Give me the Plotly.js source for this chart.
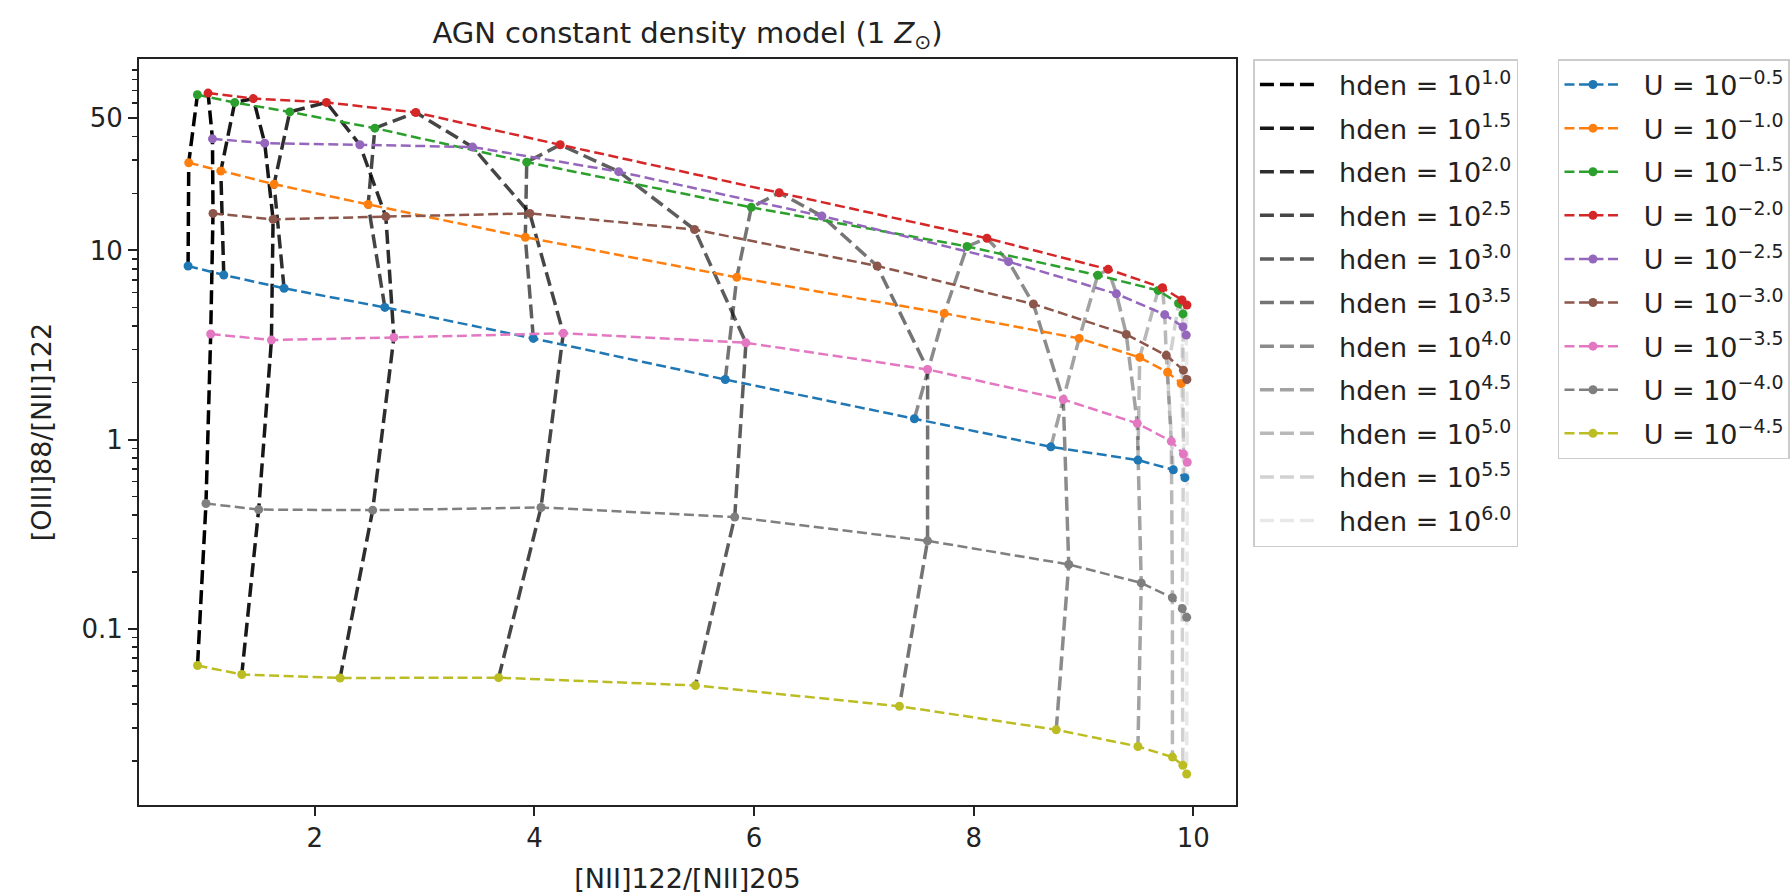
<!DOCTYPE html>
<html>
<head>
<meta charset="utf-8">
<script src="https://cdn.plot.ly/plotly-3.0.1.min.js"></script>
<style>
  html, body { margin: 0; padding: 0; background: #ffffff; width: 1792px; height: 896px; overflow: hidden; }
  #chart { width: 1850px; height: 896px; }
</style>
</head>
<body>
<div id="chart"></div>
<script>
// Density exponents (log10 hden) and ionisation-parameter exponents (log10 U)
const hdenExp = ["1.0", "1.5", "2.0", "2.5", "3.0", "3.5", "4.0", "4.5", "5.0", "5.5", "6.0"];
const uExp = ["−0.5", "−1.0", "−1.5", "−2.0", "−2.5", "−3.0", "−3.5", "−4.0", "−4.5"];
const uColors = ["#1f77b4", "#ff7f0e", "#2ca02c", "#d62728", "#9467bd",
                 "#8c564b", "#e377c2", "#7f7f7f", "#bcbd22"];

// [NII]122/[NII]205 for each U, one value per density (hden 10^1.0 ... 10^6.0)
const nii_Um05 = [0.846, 1.171, 1.72, 2.638, 3.99, 5.738, 7.46, 8.703, 9.496, 9.818, 9.924];
const nii_Um10 = [0.852, 1.144, 1.629, 2.486, 3.917, 5.843, 7.732, 8.961, 9.512, 9.766, 9.89];
const nii_Um15 = [0.931, 1.271, 1.772, 2.547, 3.93, 5.975, 7.94, 9.13, 9.68, 9.866, 9.906];
const nii_Um20 = [1.028, 1.44, 2.106, 2.92, 4.235, 6.229, 8.121, 9.225, 9.72, 9.897, 9.942];
const nii_Um25 = [1.068, 1.544, 2.41, 3.437, 4.767, 6.618, 8.318, 9.3, 9.74, 9.906, 9.936];
const nii_Um30 = [1.073, 1.62, 2.647, 3.958, 5.458, 7.121, 8.544, 9.39, 9.754, 9.91, 9.942];
const nii_Um35 = [1.052, 1.605, 2.72, 4.263, 5.926, 7.581, 8.816, 9.49, 9.80, 9.91, 9.945];
const nii_Um40 = [1.009, 1.489, 2.527, 4.06, 5.824, 7.58, 8.866, 9.526, 9.81, 9.90, 9.94];
const nii_Um45 = [0.932, 1.335, 2.23, 3.674, 5.466, 7.324, 8.752, 9.496, 9.81, 9.905, 9.94];

// [OIII]88/[NII]122 for each U, same density order
const oiii_Um05 = [8.28, 7.42, 6.31, 5.0, 3.43, 2.08, 1.29, 0.916, 0.78, 0.693, 0.63];
const oiii_Um10 = [29.1, 26.3, 22.4, 17.5, 11.75, 7.21, 4.65, 3.43, 2.72, 2.27, 1.98];
const oiii_Um15 = [66.5, 60.5, 54.0, 44.3, 29.3, 16.9, 10.5, 7.4, 6.15, 5.25, 4.62];
const oiii_Um20 = [67.9, 63.5, 60.6, 53.6, 36.2, 20.2, 11.6, 7.95, 6.35, 5.47, 5.15];
const oiii_Um25 = [38.9, 36.9, 36.2, 35.2, 26.1, 15.2, 8.73, 5.9, 4.58, 3.95, 3.57];
const oiii_Um30 = [15.7, 14.6, 15.1, 15.7, 12.9, 8.28, 5.21, 3.6, 2.79, 2.33, 2.08];
const oiii_Um35 = [3.62, 3.36, 3.47, 3.65, 3.25, 2.35, 1.63, 1.22, 0.98, 0.84, 0.76];
const oiii_Um40 = [0.46, 0.427, 0.424, 0.438, 0.39, 0.292, 0.219, 0.175, 0.146, 0.128, 0.115];
const oiii_Um45 = [0.064, 0.0574, 0.055, 0.0552, 0.0502, 0.039, 0.0293, 0.0239, 0.021, 0.019, 0.0171];

const niiByU = [nii_Um05, nii_Um10, nii_Um15, nii_Um20, nii_Um25, nii_Um30, nii_Um35, nii_Um40, nii_Um45];
const oiiiByU = [oiii_Um05, oiii_Um10, oiii_Um15, oiii_Um20, oiii_Um25, oiii_Um30, oiii_Um35, oiii_Um40, oiii_Um45];

const FONT = "DejaVu Sans, Verdana, sans-serif";
const TXT = "#222222";
const GAP = "\u00a0\u00a0";

// Constant-density tracks: black, fading with density
const hdenTraces = hdenExp.map((e, j) => {
  const a = (hdenExp.length - j) / hdenExp.length;
  return {
    type: "scatter",
    mode: "lines",
    x: niiByU.map(arr => arr[j]),
    y: oiiiByU.map(arr => arr[j]),
    name: GAP + "hden = 10<sup>" + e + "</sup>",
    legend: "legend",
    legendgroup: "h" + j,
    line: { color: "rgba(0,0,0," + a.toFixed(3) + ")", width: 3.5, dash: "14px,6px" },
    hoverinfo: "skip"
  };
});

// Constant-ionisation-parameter tracks: coloured, with point markers
const uTraces = uExp.map((e, i) => ({
  type: "scatter",
  mode: "lines+markers",
  x: niiByU[i],
  y: oiiiByU[i],
  name: GAP + "U = 10<sup>" + e + "</sup>",
  legend: "legend2",
  legendgroup: "u" + i,
  line: { color: uColors[i], width: 2.5, dash: "10px,4.5px" },
  marker: { color: uColors[i], size: 9 },
  hoverinfo: "skip"
}));

const minorY = [];
[0.01, 0.1, 1, 10].forEach(d => {
  for (let k = 2; k <= 9; k++) minorY.push(+(k * d).toPrecision(3));
});

const legendBase = {
  xanchor: "left", yanchor: "top", y: 1,
  bgcolor: "#ffffff", bordercolor: "#cccccc", borderwidth: 1.5,
  font: { family: FONT, size: 27, color: TXT },
  traceorder: "grouped", tracegroupgap: 5.5, itemwidth: 57,
  itemclick: false, itemdoubleclick: false
};

const layout = {
  width: 1850, height: 896,
  paper_bgcolor: "#ffffff", plot_bgcolor: "#ffffff",
  margin: { l: 139, r: 614, t: 59, b: 91, autoexpand: false },
  font: { family: FONT, color: TXT },
  title: {
    text: "AGN constant density model (1 <i>Z</i><sub>⊙</sub>)",
    font: { family: FONT, size: 29, color: TXT },
    x: 0.5, xref: "paper", xanchor: "center",
    y: 1 - 33 / 896, yref: "container", yanchor: "middle"
  },
  xaxis: {
    range: [0.399, 10.389],
    tickvals: [2, 4, 6, 8, 10],
    ticktext: ["2", "4", "6", "8", "10"],
    ticks: "outside", ticklen: 9, tickwidth: 2, tickcolor: TXT,
    showline: true, mirror: true, linecolor: TXT, linewidth: 2,
    showgrid: false, zeroline: false,
    tickfont: { family: FONT, size: 26, color: TXT },
    title: { text: "[NII]122/[NII]205", font: { family: FONT, size: 27, color: TXT }, standoff: 17 },
    automargin: false
  },
  yaxis: {
    type: "log",
    range: [-1.931, 2.012],
    tickmode: "array",
    tickvals: [0.1, 1, 10, 50],
    ticktext: ["0.1", "1", "10", "50"],
    ticks: "outside", ticklen: 9, tickwidth: 2, tickcolor: TXT,
    minor: { tickmode: "array", tickvals: minorY, ticks: "outside", ticklen: 5, tickwidth: 1.5, tickcolor: TXT },
    showline: true, mirror: true, linecolor: TXT, linewidth: 2,
    showgrid: false, zeroline: false,
    tickfont: { family: FONT, size: 26, color: TXT },
    title: { text: "[OIII]88/[NII]122", font: { family: FONT, size: 27, color: TXT }, standoff: 22 },
    automargin: false
  },
  legend: Object.assign({}, legendBase, { x: 1.0159 }),
  legend2: Object.assign({}, legendBase, { x: 1.2935 }),
  showlegend: true
};

Plotly.newPlot("chart", hdenTraces.concat(uTraces), layout, { staticPlot: true, displayModeBar: false });
</script>
</body>
</html>
